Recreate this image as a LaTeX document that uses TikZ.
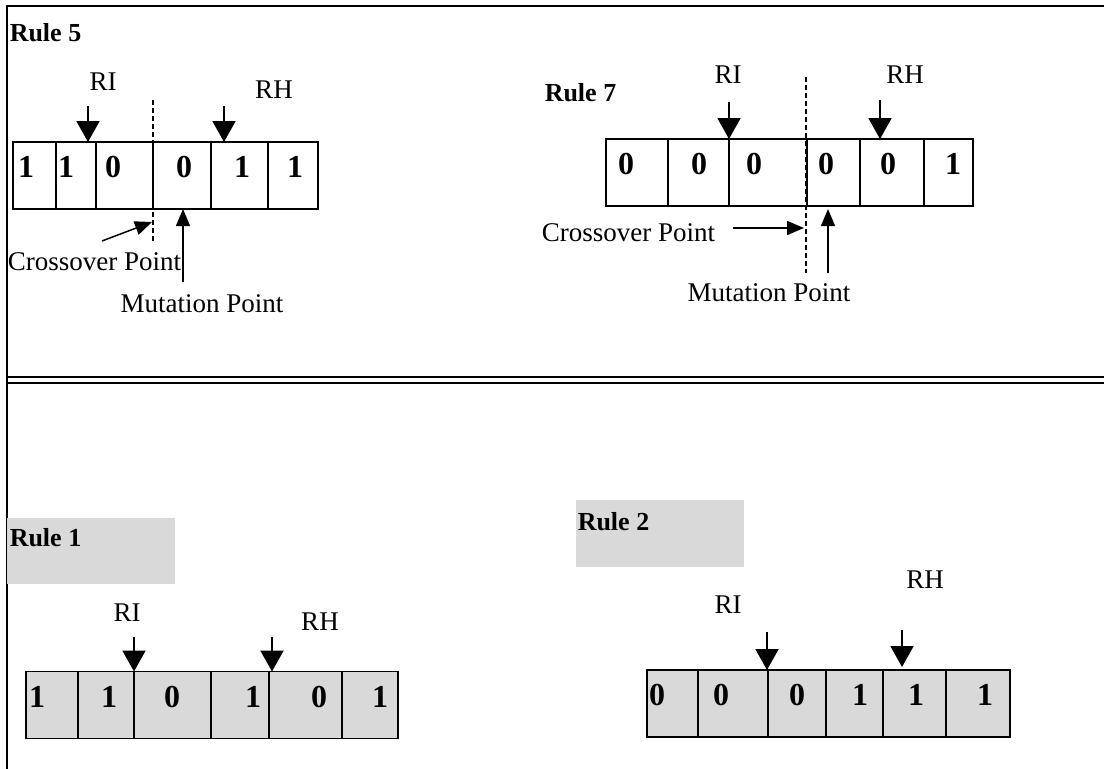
\documentclass[tikz,border=0pt]{standalone}
\usepackage{fontspec}
\setmainfont{Liberation Serif}
\usepackage{tikz}
\usetikzlibrary{positioning,arrows.meta}
\definecolor{cellgray}{RGB}{217,217,217}

\begin{document}
\begin{tikzpicture}[%
        x=1pt, y=-1pt,
        line width=1.5pt,
        txt/.style={font=\fontsize{27}{30}\selectfont, inner sep=0pt},
        rulename/.style={font=\fontsize{26}{30}\selectfont\bfseries, inner sep=0pt, anchor=west},
        digit/.style={font=\fontsize{32}{34}\selectfont\bfseries, inner sep=0pt},
        cell/.style={%
          rectangle,
          draw,
          inner sep=0pt, outer sep=0pt,
          minimum height=67pt
        },
        graycell/.style={cell, fill=cellgray},
        marker/.style={line width=2pt, -{Triangle[width=23pt,length=21pt]}},
        pointer/.style={line width=1.5pt, -{Triangle[width=14pt,length=17pt]}},
        cut/.style={line width=1.3pt, dash pattern=on 5pt off 3pt},
        shadebox/.style={rectangle, fill=cellgray, inner sep=0pt, minimum width=168pt, minimum height=66pt}
      ]
      \useasboundingbox (0,0) rectangle (1104,769);

      % frame and separator
      \draw[line width=2pt] (7,769) -- (7,6) -- (1104,6);
      \draw[line width=2pt] (7,377) -- (1104,377);
      \draw[line width=2pt] (7,383) -- (1104,383);

      % Rule 5
      \node[rulename] (fiveName) at (9,33) {Rule 5};
      \foreach \l/\r/\d/\dx [count=\i] in {13/56/1/26, 56/96/1/66, 96/153/0/113, 153/211/0/184, 211/268/1/242, 268/318/1/295} {
        \pgfmathsetmacro\w{\r-\l}
        \node[cell, minimum width=\w pt] (fiveC\i) at ({(\l+\r)/2},175.5) {};
        \node[digit] (fiveD\i) at (\dx,167) {\d};
      }
      \node[txt] (fiveRI) at (103,82) {RI};
      \node[txt] (fiveRH) at (274,90) {RH};
      \coordinate (fiveRIs) at (88,106);
      \coordinate (fiveRHs) at (224,106);
      \draw[marker] (fiveRIs) -- (fiveRIs |- fiveC2.north);
      \draw[marker] (fiveRHs) -- (fiveRHs |- fiveC5.north);
      \coordinate (fiveCutTop) at (153,100);
      \coordinate (fiveCutEnd) at (153,242);
      \draw[cut] (fiveCutTop) -- (fiveCutEnd);
      \node[txt] (fiveCross) at (94.5,262) {Crossover Point};
      \coordinate (fiveCrossTail) at (102,241);
      \coordinate (fiveCrossTip) at (152,222);
      \draw[pointer] (fiveCrossTail) -- (fiveCrossTip);
      \node[txt] (fiveMut) at (202,304) {Mutation Point};
      \coordinate (fiveMutTail) at (183,282);
      \draw[pointer] (fiveMutTail) -- (fiveMutTail |- fiveC4.south);

      % Rule 7
      \node[rulename] (sevenName) at (544,93) {Rule 7};
      \foreach \l/\r/\d/\dx [count=\i] in {606/668/0/626, 668/729/0/699, 729/807/0/754, 807/860/0/826, 860/924/0/888, 924/973/1/953} {
        \pgfmathsetmacro\w{\r-\l}
        \node[cell, minimum width=\w pt] (sevenC\i) at ({(\l+\r)/2},172.5) {};
        \node[digit] (sevenD\i) at (\dx,164) {\d};
      }
      \node[txt] (sevenRI) at (728,75) {RI};
      \node[txt] (sevenRH) at (905,75) {RH};
      \coordinate (sevenRIs) at (729,102);
      \coordinate (sevenRHs) at (880,100);
      \draw[marker] (sevenRIs) -- (sevenRIs |- sevenC3.north);
      \draw[marker] (sevenRHs) -- (sevenRHs |- sevenC5.north);
      \coordinate (sevenCutTop) at (806,77);
      \coordinate (sevenCutEnd) at (806,273);
      \draw[cut] (sevenCutTop) -- (sevenCutEnd);
      \node[txt] (sevenCross) at (628.5,233) {Crossover Point};
      \coordinate (sevenCrossTail) at (733,228);
      \coordinate (sevenCrossTip) at (804,228);
      \draw[pointer] (sevenCrossTail) -- (sevenCrossTip);
      \node[txt] (sevenMut) at (769,293) {Mutation Point};
      \coordinate (sevenMutTail) at (828,273);
      \draw[pointer] (sevenMutTail) -- ([yshift=-3pt]sevenMutTail |- sevenC4.south);

      % Rule 1
      \node[shadebox] (oneTag) at (91,551) {};
      \node[rulename] (oneName) at (9,538) {Rule 1};
      \foreach \l/\r/\d/\dx [count=\i] in {26/78/1/37, 78/134/1/109, 134/211/0/172, 211/269/1/253, 269/342/0/319, 342/398/1/380} {
        \pgfmathsetmacro\w{\r-\l}
        \node[graycell, minimum width=\w pt] (oneC\i) at ({(\l+\r)/2},705) {};
        \node[digit] (oneD\i) at (\dx,697) {\d};
      }
      \node[txt] (oneRI) at (127,613) {RI};
      \node[txt] (oneRH) at (320,622) {RH};
      \coordinate (oneRIs) at (134,637);
      \coordinate (oneRHs) at (272,637);
      \draw[marker] (oneRIs) -- (oneRIs |- oneC3.north);
      \draw[marker] (oneRHs) -- (oneRHs |- oneC5.north);

      % Rule 2
      \node[shadebox, minimum height=67pt] (twoTag) at (660,533.5) {};
      \node[rulename] (twoName) at (577,522) {Rule 2};
      \foreach \l/\r/\d/\dx [count=\i] in {647/698/0/657, 698/768/0/721, 768/826/0/797, 826/883/1/860, 883/946/1/916, 946/1010/1/985} {
        \pgfmathsetmacro\w{\r-\l}
        \node[graycell, minimum width=\w pt] (twoC\i) at ({(\l+\r)/2},703.5) {};
        \node[digit] (twoD\i) at (\dx,695) {\d};
      }
      \node[txt] (twoRI) at (728,605) {RI};
      \node[txt] (twoRH) at (925,580) {RH};
      \coordinate (twoRIs) at (767,632);
      \coordinate (twoRHs) at (902,630);
      \coordinate (twoRHe) at (902,667);
      \draw[marker] (twoRIs) -- (twoRIs |- twoC3.north);
      \draw[marker] (twoRHs) -- (twoRHe);
    \end{tikzpicture}
\end{document}
